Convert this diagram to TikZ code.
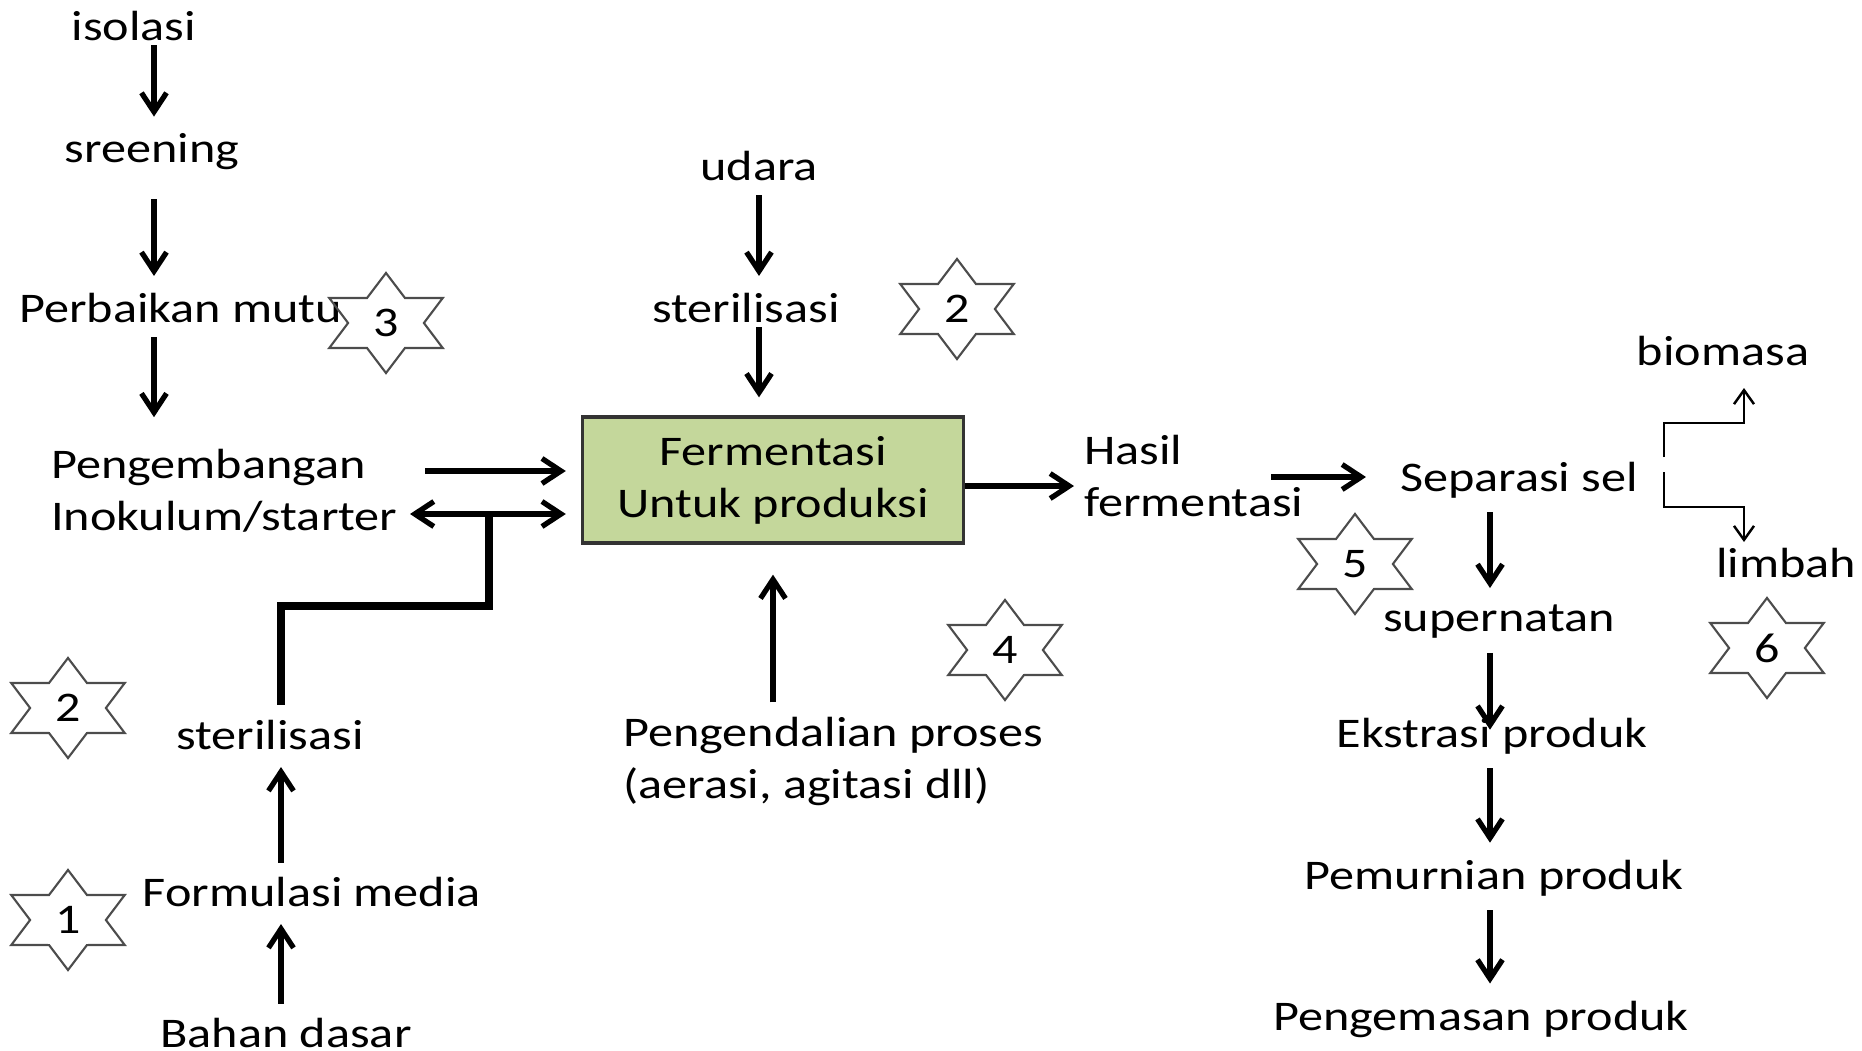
\documentclass[tikz,border=0pt]{standalone}
\usepackage{fontspec}
\setmainfont{Carlito}[FakeStretch=1.19]
\usepackage{tikz}
\usetikzlibrary{shapes, arrows.meta, positioning, shapes.geometric}
\definecolor{hijaumuda}{RGB}{196,215,155}
\newcommand{\angka}[1]{\scalebox{0.76}[1]{#1}}

\begin{document}
\begin{tikzpicture}
  [x=0.01cm, y=-0.01cm,
  every node/.append style={font=\fontsize{12pt}{14.8pt}\selectfont, inner sep=1pt},
  proses/.style={rectangle, draw=black!80, fill=hijaumuda, line width=0.9pt, minimum width=3.81cm, minimum height=1.26cm, align=center},
  bintang/.style={star, star points=6, star point ratio=1.73, draw=black!70, line width=0.6pt, minimum size=1cm, inner sep=0pt, xscale=1.31, transform shape},
  panah/.style={-{Straight Barb[length=1.9mm,width=2.5mm]}, line width=1.5pt, shorten <=0.1cm, shorten >=0.13cm},
  panahdua/.style={{Straight Barb[length=1.9mm,width=2.5mm]}-{Straight Barb[length=1.9mm,width=2.5mm]}, line width=1.5pt},
  tebal/.style={line width=2.3pt},
  tipis/.style={-{Straight Barb[length=1.4mm,width=2mm]}, line width=0.7pt}]

  \useasboundingbox (0,0) rectangle (1862,1051);

  % kolom kiri atas
  \node (isolasi) at (134,26) {isolasi};
  \node (sreening) at (152,152) {sreening};
  \node[anchor=west] (perbaikan) at (15,308) {Perbaikan mutu};
  \node[anchor=west, align=left] (pengembangan) at (47,491) {Pengembangan\\Inokulum/starter};

  % tengah
  \node[proses] (fermentasi) at (773,480) {Fermentasi\\Untuk produksi};
  \node (udara) at (759,166) {udara};
  \node (steril1) at (746,308) {sterilisasi};
  \node[anchor=west, align=left] (pengendalian) at (619,761) {Pengendalian proses\\(aerasi, agitasi dll)};

  % kanan
  \node[anchor=west, align=left] (hasil) at (1080,476) {Hasil\\fermentasi};
  \node[anchor=west] (separasi) at (1396,480) {Separasi sel};
  \node (supernatan) at (1499,622) {supernatan};
  \node (ekstrasi) at (1492,736) {Ekstrasi produk};
  \node (pemurnian) at (1494,878) {Pemurnian produk};
  \node (pengemasan) at (1481,1019) {Pengemasan produk};
  \node (biomasa) at (1723,351) {biomasa};
  \node (limbah) at (1786,563) {limbah};

  % kiri bawah
  \node (steril2) at (270,735) {sterilisasi};
  \node (formulasi) at (312,892) {Formulasi media};
  \node (bahan) at (286,1033) {Bahan dasar};

  % bintang
  \node[bintang] (bintang1) at (68,920) {\angka{1}};
  \node[bintang] (bintang2a) at (957,309) {\angka{2}};
  \node[bintang] (bintang2b) at (68,708) {\angka{2}};
  \node[bintang] (bintang3) at (386,323) {\angka{3}};
  \node[bintang] (bintang4) at (1005,650) {\angka{4}};
  \node[bintang] (bintang5) at (1355,564) {\angka{5}};
  \node[bintang] (bintang6) at (1767,648) {\angka{6}};

  \coordinate (kolom1) at (154,0);
  \coordinate (kolom2) at (281,0);
  \coordinate (kolom3) at (1490,0);
  \coordinate (atas) at (425,471);
  \coordinate (bawah) at (410,514);
  \coordinate (sambung) at (489,514);
  \coordinate (hasilkanan) at (1271,477);
  \coordinate (cabang1) at (1664,457);
  \coordinate (cabang2) at (1664,472);
  \coordinate (ujung1) at (1744,388);
  \coordinate (ujung2) at (1744,542);

  \draw[panah, shorten <=0pt] (kolom1 |- isolasi.south) -- (kolom1 |- sreening.north);
  \draw[panah, shorten <=0.25cm] (kolom1 |- sreening.south) -- (kolom1 |- perbaikan.north);
  \draw[panah, shorten >=0.28cm] (kolom1 |- perbaikan.south) -- (kolom1 |- pengembangan.north);

  \draw[panah, shorten <=0pt, shorten >=0.15cm] (atas) -- (atas -| fermentasi.west);
  \draw[panahdua, shorten >=0.15cm] (bawah) -- (bawah -| fermentasi.west);
  \draw[tebal] ([xshift=0.11cm,yshift=0.11cm]steril2.north) |- ([yshift=-0.92cm]sambung) -- (sambung);

  \draw[panah] (udara.south) -- (udara.south |- steril1.north);
  \draw[panah, shorten <=0pt, shorten >=0.18cm] (udara.south |- steril1.south) -- (udara.south |- fermentasi.north);
  \draw[panah, shorten >=0.3cm] (fermentasi.south |- pengendalian.north) -- (fermentasi.south);

  \draw[panah, shorten <=0pt, shorten >=0.06cm] ([yshift=-0.06cm]fermentasi.east) -- ([yshift=-0.06cm]fermentasi.east -| hasil.west);
  \draw[panah, shorten <=0pt, shorten >=0.3cm] (hasilkanan) -- (hasilkanan -| separasi.west);

  \draw[panah] (kolom3 |- separasi.south) -- (kolom3 |- supernatan.north);
  \draw[panah, shorten >=-0.16cm] (kolom3 |- supernatan.south) -- (kolom3 |- ekstrasi.north);
  \draw[panah] (kolom3 |- ekstrasi.south) -- (kolom3 |- pemurnian.north);
  \draw[panah] (kolom3 |- pemurnian.south) -- (kolom3 |- pengemasan.north);

  \draw[tipis] (cabang1) |- ([yshift=-0.35cm]ujung1) -- (ujung1);
  \draw[tipis] (cabang2) |- ([yshift=0.35cm]ujung2) -- (ujung2);

  \draw[panah] (kolom2 |- bahan.north) -- (kolom2 |- formulasi.south);
  \draw[panah] (kolom2 |- formulasi.north) -- (kolom2 |- steril2.south);

\end{tikzpicture}
\end{document}
